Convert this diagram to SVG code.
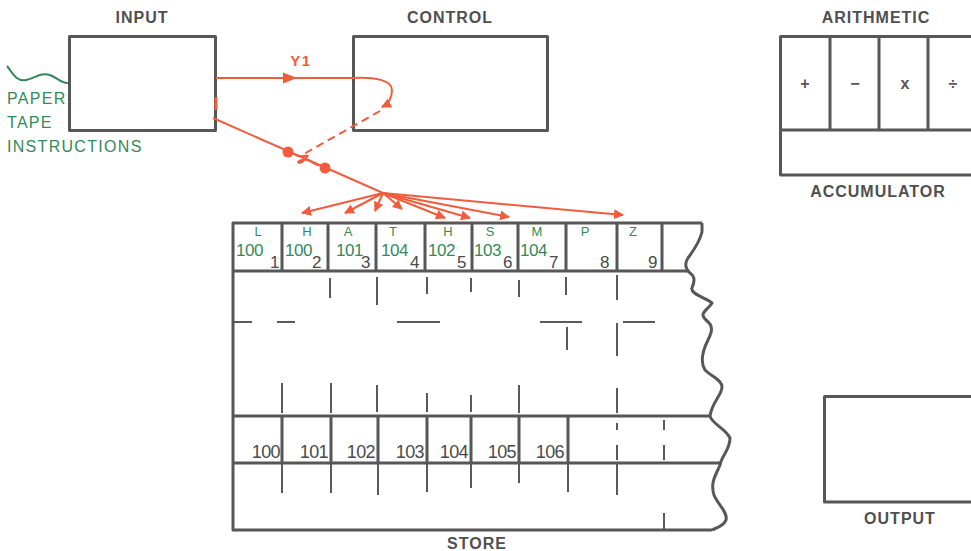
<svg xmlns="http://www.w3.org/2000/svg" width="971" height="551" viewBox="0 0 971 551">
<defs>
<style>
.box{fill:none;stroke:#575757;stroke-width:3;stroke-linejoin:round}
.tick{fill:none;stroke:#5a5a5a;stroke-width:2}
.lbl{font-family:"Liberation Sans",Arial,sans-serif;font-weight:bold;font-size:16px;fill:#4f4f4f;letter-spacing:1px;text-anchor:middle}
.grn{font-family:"Liberation Sans",Arial,sans-serif;font-size:16px;fill:#338a58;letter-spacing:1.3px}
.let{font-family:"Liberation Sans",Arial,sans-serif;font-size:13px;fill:#338a58;text-anchor:middle}
.num{font-family:"Liberation Sans",Arial,sans-serif;font-size:17px;fill:#338a58;letter-spacing:-0.5px}
.sub{font-family:"Liberation Sans",Arial,sans-serif;font-size:17px;fill:#4a4a4a}
.adr{font-family:"Liberation Sans",Arial,sans-serif;font-size:18px;fill:#4a4a4a;text-anchor:end;letter-spacing:-0.6px}
.sym{font-family:"Liberation Sans",Arial,sans-serif;font-weight:bold;font-size:16px;fill:#555;text-anchor:middle}
.red{fill:none;stroke:#f25c3c;stroke-width:2}
</style>
<marker id="ah" viewBox="0 0 10 10" refX="9" refY="5" markerWidth="5" markerHeight="5" orient="auto" markerUnits="strokeWidth">
<path d="M0,0 L10,5 L0,10 z" fill="#f25c3c"/>
</marker>
</defs>
<rect width="971" height="551" fill="#ffffff"/>

<g id="input">
<rect class="box" x="69.5" y="36.5" width="146" height="94"/>
<text class="lbl" x="142" y="23">INPUT</text>
</g>

<g id="paper-tape">
<path d="M7,66 C12,72 16,82 26,80 C36,78 40,72 50,75 C58,78 62,84 68,83" fill="none" stroke="#338a58" stroke-width="2"/>
<text class="grn" x="7" y="104">PAPER</text>
<text class="grn" x="7" y="128">TAPE</text>
<text class="grn" x="7" y="152">INSTRUCTIONS</text>
</g>

<g id="control">
<rect class="box" x="353.5" y="36.5" width="194" height="94"/>
<text class="lbl" x="450" y="23">CONTROL</text>
</g>

<g id="arithmetic">
<path class="box" d="M975,36.5 H780.5 V175 H975"/>
<path class="box" d="M780.5,130 H975 M830,36.5 V130 M879,36.5 V130 M928,36.5 V130"/>
<text class="sym" x="805" y="89">+</text>
<text class="sym" x="855" y="89">−</text>
<text class="sym" x="905" y="89">x</text>
<text class="sym" x="953" y="89">÷</text>
<text class="lbl" x="876" y="23">ARITHMETIC</text>
<text class="lbl" x="878" y="197">ACCUMULATOR</text>
</g>

<g id="output">
<path class="box" d="M975,396.5 H824.5 V502 H975"/>
<text class="lbl" x="900" y="524">OUTPUT</text>
</g>

<g id="store">
<path class="box" d="M702,223 H233 V530 H712"/>
<path class="box" d="M233,271 H688 M233,416 H711 M233,463 H722"/>
<path class="box" d="M702,223 L702,232 C700,240 694,250 688,258 C684,264 686,270 690,273 C696,277 694,283 692,288 C690,294 706,298 712,303 C708,310 698,313 706,320 C714,326 712,332 708,340 C703,350 700,362 705,370 C712,377 722,380 722,387 C722,395 712,402 710,416 C712,424 725,428 730,438 C730,450 722,455 720,465 C716,475 710,482 714,495 C718,505 728,512 726,520 C724,526 716,528 712,530"/>
<path class="box" d="M282,223 V271 M328,223 V271 M376,223 V271 M425,223 V271 M472,223 V271 M518,223 V271 M566,223 V271 M617,223 V271 M662,223 V271"/>
<path class="tick" d="M330,278 V298 M377,277 V305 M427,277 V294 M471,278 V292 M519,280 V297 M566,277 V295 M617,275 V300"/>
<path class="tick" d="M234,322 H252 M277,322 H295 M397,322 H440 M540,322 H582 M623,322 H655 M567,327 V350 M617,323 V356"/>
<path class="tick" d="M282,383 V413 M331,383 V413 M377,385 V412 M427,393 V412 M471,395 V412 M519,385 V413 M617,388 V413"/>
<path class="box" d="M282,416 V463 M331,416 V463 M378,416 V463 M427,416 V463 M471,416 V463 M519,416 V463 M568,416 V463"/>
<path class="tick" d="M617,405 V412 M617,423 V430 M617,445 V460 M664,420 V430 M664,445 V460"/>
<path class="tick" d="M282,463 V493 M331,463 V493 M378,463 V495 M427,463 V492 M471,463 V488 M519,463 V483 M568,463 V492 M617,463 V495 M664,513 V530"/>
<text class="let" x="258" y="236">L</text>
<text class="let" x="307" y="236">H</text>
<text class="let" x="348" y="236">A</text>
<text class="let" x="393" y="236">T</text>
<text class="let" x="448" y="236">H</text>
<text class="let" x="490" y="236">S</text>
<text class="let" x="537" y="236">M</text>
<text class="let" x="585" y="236">P</text>
<text class="let" x="633" y="236">Z</text>
<text class="num" x="236" y="256">100</text>
<text class="num" x="285" y="256">100</text>
<text class="num" x="336" y="256">101</text>
<text class="num" x="381" y="256">104</text>
<text class="num" x="428" y="256">102</text>
<text class="num" x="474" y="256">103</text>
<text class="num" x="520" y="256">104</text>
<text class="sub" x="270" y="268">1</text>
<text class="sub" x="312" y="268">2</text>
<text class="sub" x="361" y="268">3</text>
<text class="sub" x="410" y="268">4</text>
<text class="sub" x="457" y="268">5</text>
<text class="sub" x="503" y="268">6</text>
<text class="sub" x="549" y="268">7</text>
<text class="sub" x="600" y="268">8</text>
<text class="sub" x="648" y="268">9</text>
<text class="adr" x="280" y="458">100</text>
<text class="adr" x="328" y="458">101</text>
<text class="adr" x="375" y="458">102</text>
<text class="adr" x="424" y="458">103</text>
<text class="adr" x="468" y="458">104</text>
<text class="adr" x="516" y="458">105</text>
<text class="adr" x="564" y="458">106</text>
<text class="lbl" x="477" y="549">STORE</text>
</g>

<g id="connectors">
<path class="red" d="M216,78 H353 C375,77 392,80 392,90 C392,98 388,104 382,107" marker-end="url(#ah)"/>
<path d="M283,72.5 L297,78 L283,83.5 z" fill="#f25c3c"/>
<text x="301" y="66" font-family="'Liberation Sans',Arial,sans-serif" font-weight="bold" font-size="15" fill="#f25c3c" text-anchor="middle" letter-spacing="1.5">Y1</text>
<path d="M216,97 V110" stroke="#f25c3c" stroke-width="3" fill="none"/>
<path class="red" d="M380,111 L302,155" stroke-dasharray="8,5"/>
<path class="red" d="M213,118 L383,193"/>
<circle cx="288" cy="152" r="5.5" fill="#f25c3c"/>
<circle cx="325" cy="168" r="5.5" fill="#f25c3c"/>
<path class="red" d="M294,154 C302,160 312,152 306,158 C300,166 294,162 302,160 C310,157 314,166 319,165"/>
<path class="red" d="M383,193 L302,213" marker-end="url(#ah)"/>
<path class="red" d="M383,193 L345,213" marker-end="url(#ah)"/>
<path class="red" d="M383,193 L375,211" marker-end="url(#ah)"/>
<path class="red" d="M383,193 L402,209" marker-end="url(#ah)"/>
<path class="red" d="M383,193 L445,218" marker-end="url(#ah)"/>
<path class="red" d="M383,193 L470,218" marker-end="url(#ah)"/>
<path class="red" d="M383,193 L509,217" marker-end="url(#ah)"/>
<path class="red" d="M383,193 L623,215" marker-end="url(#ah)"/>
</g>
</svg>
